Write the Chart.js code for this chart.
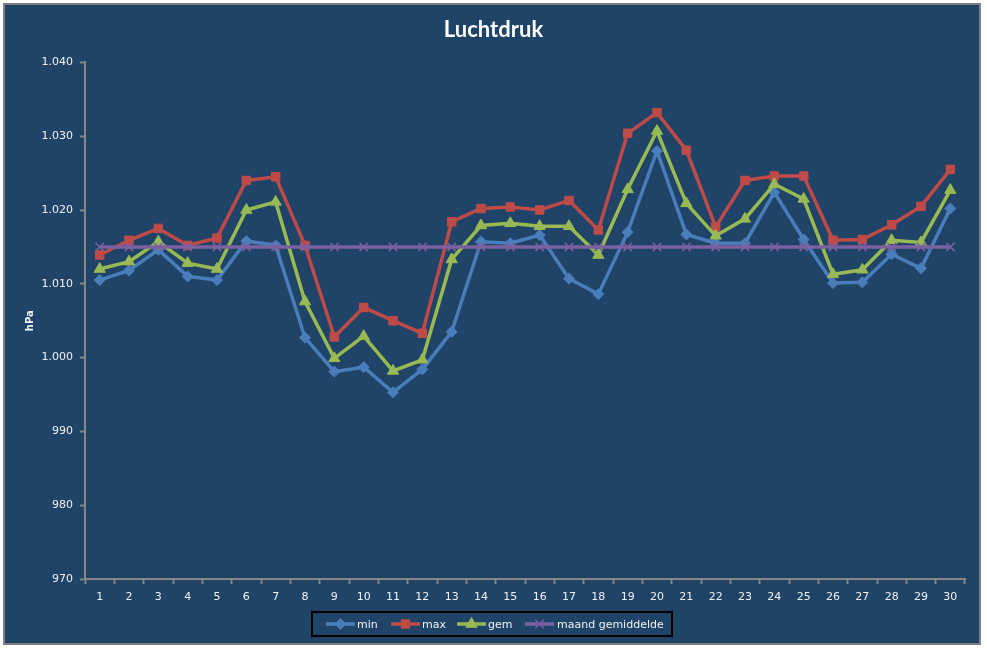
<!DOCTYPE html>
<html>
<head>
<meta charset="utf-8">
<script src="https://cdn.jsdelivr.net/npm/chart.js@4.4.1/dist/chart.umd.min.js"></script>
<style>
  body { margin: 0; background: #fff; }
  #frame {
    position: absolute; left: 3px; top: 3px; width: 978px; height: 642px;
    box-sizing: border-box; border: 2px solid #808080; background: #1f4467;
  }
  #wrap { position: absolute; left: 0; top: 0; width: 987px; height: 648px; }
</style>
</head>
<body>
<div id="frame"></div>
<div id="wrap"><canvas id="chart" width="987" height="648"></canvas></div>
<script>
// Luchtdruk per dag (hPa)
const days = ['1','2','3','4','5','6','7','8','9','10','11','12','13','14','15','16','17','18','19','20','21','22','23','24','25','26','27','28','29','30']
const minVals = [1010.5, 1011.8, 1014.6, 1011.0, 1010.5, 1015.8, 1015.2, 1002.7, 998.1, 998.7, 995.3, 998.4, 1003.5, 1015.7, 1015.5, 1016.6, 1010.7, 1008.6, 1017.0, 1028.0, 1016.7, 1015.5, 1015.5, 1022.4, 1016.0, 1010.1, 1010.2, 1014.0, 1012.1, 1020.2]
const maxVals = [1013.9, 1015.9, 1017.5, 1015.2, 1016.2, 1024.0, 1024.5, 1015.2, 1002.8, 1006.8, 1005.0, 1003.3, 1018.4, 1020.2, 1020.4, 1020.0, 1021.3, 1017.3, 1030.4, 1033.2, 1028.1, 1017.7, 1024.0, 1024.6, 1024.6, 1015.9, 1016.0, 1018.0, 1020.5, 1025.5]
const gemVals = [1012.0, 1013.0, 1015.7, 1012.8, 1012.0, 1020.0, 1021.1, 1007.6, 999.9, 1002.9, 998.2, 999.7, 1013.3, 1017.9, 1018.2, 1017.8, 1017.8, 1013.9, 1022.8, 1030.7, 1020.9, 1016.5, 1018.8, 1023.5, 1021.5, 1011.3, 1011.9, 1015.9, 1015.6, 1022.7]
const maandVals = [1015.0, 1015.0, 1015.0, 1015.0, 1015.0, 1015.0, 1015.0, 1015.0, 1015.0, 1015.0, 1015.0, 1015.0, 1015.0, 1015.0, 1015.0, 1015.0, 1015.0, 1015.0, 1015.0, 1015.0, 1015.0, 1015.0, 1015.0, 1015.0, 1015.0, 1015.0, 1015.0, 1015.0, 1015.0, 1015.0]
const yTicks = [970, 980, 990, 1000, 1010, 1020, 1030, 1040]

const axisColor = '#868686'
const textColor = '#f2f2f2'
const tickFont = { family: 'DejaVu Sans', size: 11 }

// getallen met punt als duizendtal-scheiding
function fmt(v) {
  const s = String(Math.round(v))
  return s.length > 3 ? s.slice(0, s.length - 3) + '.' + s.slice(-3) : s
}

function series(label, data, color, pointStyle, radius, order) {
  return {
    label: label,
    data: data,
    borderColor: color,
    backgroundColor: color,
    borderWidth: 3.5,
    pointStyle: pointStyle,
    pointRadius: radius,
    pointBorderWidth: pointStyle === 'crossRot' ? 1.5 : 1,
    pointBorderColor: color,
    pointBackgroundColor: color,
    tension: 0,
    order: order
  }
}

// legenda met zwarte rand, zoals in Excel
const boxLegend = {
  id: 'boxLegend',
  afterDraw(chart) {
    const ctx = chart.ctx
    const items = [
      { x: 326, tx: 357 },
      { x: 391, tx: 422 },
      { x: 457, tx: 488 },
      { x: 525, tx: 557 }
    ]
    const y = 624
    ctx.save()
    ctx.strokeStyle = '#000000'
    ctx.lineWidth = 2
    ctx.strokeRect(312, 612, 360, 24)
    chart.data.datasets.forEach((ds, i) => {
      const it = items[i]
      ctx.strokeStyle = ds.borderColor
      ctx.lineWidth = 3.5
      ctx.beginPath()
      ctx.moveTo(it.x, y)
      ctx.lineTo(it.x + 29, y)
      ctx.stroke()
      ctx.fillStyle = ds.backgroundColor
      ctx.strokeStyle = ds.borderColor
      ctx.lineWidth = ds.pointBorderWidth
      Chart.helpers.drawPoint(ctx, { pointStyle: ds.pointStyle, radius: ds.pointRadius, rotation: 0, borderWidth: ds.pointBorderWidth }, it.x + 14.5, y)
      ctx.fillStyle = textColor
      ctx.font = '11px "DejaVu Sans"'
      ctx.textBaseline = 'middle'
      ctx.textAlign = 'left'
      ctx.fillText(ds.label, it.tx, y + 1)
    })
    ctx.restore()
  }
}

new Chart(document.getElementById('chart'), {
  type: 'line',
  data: {
    labels: days,
    datasets: [
      series('min', minVals, '#4a7ebb', 'rectRot', 5.5, 4),
      series('max', maxVals, '#be4b48', 'rect', 6, 3),
      series('gem', gemVals, '#98b954', 'triangle', 6.5, 2),
      series('maand gemiddelde', maandVals, '#7d60a0', 'crossRot', 6, 1)
    ]
  },
  options: {
    responsive: false,
    animation: false,
    layout: { padding: { left: 0, right: 0, top: 0, bottom: 0 } },
    plugins: {
      legend: { display: false },
      tooltip: { enabled: false },
      title: {
        display: true,
        text: 'Luchtdruk',
        color: '#ffffff',
        font: { family: 'Lato', size: 22, weight: 'bold' },
        padding: { top: 17, bottom: 19 }
      }
    },
    scales: {
      x: {
        offset: true,
        grid: { display: true, drawOnChartArea: false, offset: true, color: axisColor, tickLength: 5, tickWidth: 2 },
        border: { color: axisColor, width: 2 },
        ticks: { color: textColor, font: tickFont, padding: 7, maxRotation: 0, autoSkip: false },
        afterFit(scale) { scale.height = 69 }
      },
      y: {
        min: 970,
        max: 1040,
        afterBuildTicks(scale) { scale.ticks = yTicks.map(v => ({ value: v })) },
        grid: { display: true, drawOnChartArea: false, color: axisColor, tickLength: 5, tickWidth: 2 },
        border: { color: axisColor, width: 2 },
        ticks: { color: textColor, font: tickFont, padding: 7, callback: v => fmt(v) },
        title: {
          display: true,
          text: 'hPa',
          color: textColor,
          font: { family: 'DejaVu Sans', size: 10, weight: 'bold' },
          padding: { top: 24, bottom: 0 }
        },
        afterFit(scale) { scale.width = 85 }
      },
      // lege rechter as als ruimte, zodat de titel over de hele breedte centreert
      yRight: {
        position: 'right',
        min: 970,
        max: 1040,
        grid: { display: false },
        border: { display: false },
        ticks: { display: false },
        afterFit(scale) { scale.width = 22 }
      }
    }
  },
  plugins: [boxLegend]
})
</script>
</body>
</html>
